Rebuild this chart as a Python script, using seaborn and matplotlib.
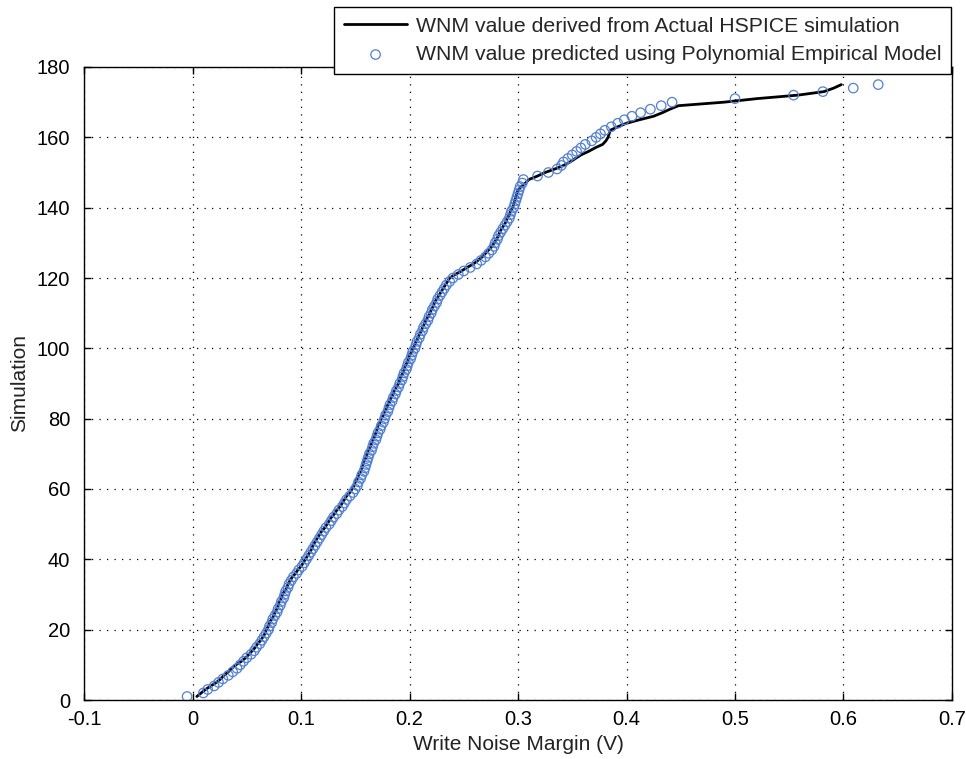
import matplotlib
matplotlib.use("Agg")
import matplotlib.pyplot as plt
import seaborn as sns
import pandas as pd
import numpy as np

actual_wnm = [
    0.004, 0.008, 0.012, 0.017, 0.022, 0.026, 0.029, 0.033, 0.036, 0.040,
    0.045, 0.049, 0.052, 0.055, 0.058, 0.060, 0.063, 0.065, 0.067, 0.068,
    0.070, 0.071, 0.073, 0.075, 0.076, 0.078, 0.079, 0.080, 0.082, 0.083,
    0.085, 0.087, 0.088, 0.090, 0.092, 0.095, 0.097, 0.100, 0.102, 0.104,
    0.106, 0.108, 0.110, 0.111, 0.113, 0.115, 0.117, 0.119, 0.122, 0.124,
    0.126, 0.128, 0.131, 0.133, 0.136, 0.138, 0.140, 0.142, 0.145, 0.147,
    0.149, 0.150, 0.152, 0.153, 0.155, 0.156, 0.157, 0.158, 0.160, 0.161,
    0.162, 0.164, 0.165, 0.166, 0.168, 0.169, 0.170, 0.171, 0.173, 0.174,
    0.176, 0.177, 0.179, 0.180, 0.182, 0.183, 0.185, 0.186, 0.188, 0.190,
    0.191, 0.192, 0.194, 0.195, 0.196, 0.198, 0.199, 0.200, 0.202, 0.203,
    0.205, 0.206, 0.208, 0.209, 0.211, 0.212, 0.214, 0.215, 0.217, 0.219,
    0.220, 0.222, 0.223, 0.225, 0.227, 0.229, 0.231, 0.233, 0.235, 0.237,
    0.242, 0.248, 0.253, 0.259, 0.263, 0.267, 0.270, 0.273, 0.276, 0.278,
    0.280, 0.282, 0.283, 0.285, 0.287, 0.289, 0.290, 0.292, 0.293, 0.295,
    0.296, 0.297, 0.298, 0.299, 0.300, 0.303, 0.307, 0.310, 0.318, 0.325,
    0.334, 0.342, 0.348, 0.353, 0.358, 0.365, 0.371, 0.378, 0.381, 0.383,
    0.384, 0.385, 0.392, 0.400, 0.412, 0.425, 0.433, 0.440, 0.448, 0.490,
    0.520, 0.558, 0.582, 0.591, 0.598,
]

predicted_wnm = [
    -0.005, 0.010, 0.014, 0.020, 0.024, 0.028, 0.033, 0.037, 0.041, 0.044,
    0.047, 0.050, 0.054, 0.057, 0.059, 0.062, 0.064, 0.066, 0.068, 0.070,
    0.071, 0.073, 0.074, 0.076, 0.078, 0.079, 0.081, 0.082, 0.084, 0.085,
    0.086, 0.088, 0.089, 0.091, 0.093, 0.096, 0.098, 0.101, 0.103, 0.105,
    0.107, 0.109, 0.111, 0.113, 0.115, 0.117, 0.119, 0.121, 0.123, 0.126,
    0.128, 0.130, 0.133, 0.135, 0.138, 0.140, 0.142, 0.145, 0.148, 0.150,
    0.152, 0.153, 0.155, 0.156, 0.158, 0.159, 0.160, 0.161, 0.162, 0.163,
    0.165, 0.166, 0.167, 0.169, 0.170, 0.171, 0.173, 0.174, 0.176, 0.177,
    0.178, 0.180, 0.181, 0.182, 0.184, 0.185, 0.187, 0.188, 0.190, 0.191,
    0.193, 0.194, 0.195, 0.197, 0.198, 0.199, 0.201, 0.202, 0.203, 0.205,
    0.206, 0.207, 0.209, 0.210, 0.212, 0.213, 0.215, 0.217, 0.218, 0.220,
    0.221, 0.223, 0.225, 0.226, 0.228, 0.230, 0.232, 0.234, 0.237, 0.240,
    0.245, 0.250, 0.256, 0.262, 0.266, 0.270, 0.273, 0.276, 0.278, 0.279,
    0.281, 0.282, 0.284, 0.286, 0.288, 0.290, 0.292, 0.293, 0.294, 0.296,
    0.297, 0.298, 0.299, 0.300, 0.301, 0.302, 0.304, 0.305, 0.318, 0.328,
    0.336, 0.340, 0.342, 0.346, 0.350, 0.354, 0.358, 0.362, 0.368, 0.372,
    0.376, 0.380, 0.386, 0.392, 0.398, 0.405, 0.413, 0.422, 0.432, 0.442,
    0.500, 0.554, 0.581, 0.609, 0.632,
]

sim_index = list(range(1, len(actual_wnm) + 1))

x_ticks = [-0.1, 0, 0.1, 0.2, 0.3, 0.4, 0.5, 0.6, 0.7]
x_tick_labels = ["-0.1", "0", "0.1", "0.2", "0.3", "0.4", "0.5", "0.6", "0.7"]
y_ticks = [0, 20, 40, 60, 80, 100, 120, 140, 160, 180]

label_actual = "WNM value derived from Actual HSPICE simulation"
label_pred = "WNM value predicted using Polynomial Empirical Model"

sns.set_theme(style="white")
plt.rcParams["font.family"] = ["Liberation Sans", "DejaVu Sans"]

df_act = pd.DataFrame({"wnm": actual_wnm, "sim": sim_index})
df_pred = pd.DataFrame({"wnm": predicted_wnm, "sim": sim_index})

W, H = 966, 759
fig = plt.figure(figsize=(W / 100, H / 100), dpi=100)
ax = fig.add_axes([84 / W, 1 - 700 / H, (952 - 84) / W, (700 - 67) / H])

sns.lineplot(data=df_act, x="wnm", y="sim", ax=ax, color="black", linewidth=2.0,
             sort=False, estimator=None, label=label_actual, zorder=3)
sns.scatterplot(data=df_pred, x="wnm", y="sim", ax=ax, marker="o", s=46,
                facecolor="none", edgecolor="#4f7fdc", linewidth=0.9,
                label=label_pred, zorder=4)

ax.set_xlim(-0.1, 0.7)
ax.set_ylim(0, 180)
ax.set_xticks(x_ticks)
ax.set_xticklabels(x_tick_labels)
ax.set_yticks(y_ticks)

ax.grid(True, color="black", linestyle=(0, (1, 5)), linewidth=0.9)
for sp in ax.spines.values():
    sp.set_color("black")
    sp.set_linewidth(1.0)
    sp.set_visible(True)

fs = 14.5
ax.tick_params(axis="both", which="both", direction="in", length=5, width=1,
               colors="black", labelsize=fs, top=True, right=True,
               bottom=True, left=True)
ax.tick_params(axis="x", pad=7)
ax.tick_params(axis="y", pad=10)

ax.set_xlabel("Write Noise Margin (V)", fontsize=15, color="#222222")
ax.set_ylabel("Simulation", fontsize=15, color="#222222")
ax.xaxis.set_label_coords(0.5, (700 - 745) / (700 - 67))
ax.xaxis.label.set_va("center")
ax.yaxis.set_label_coords((20 - 84) / (952 - 84), 0.5)
ax.yaxis.label.set_va("center")

ax.get_legend().remove()
handles, labels = ax.get_legend_handles_labels()
leg = fig.legend(handles, labels, loc="upper right",
                 bbox_to_anchor=(951 / W, 1 - 7 / H), fontsize=15.3,
                 frameon=True, fancybox=False, framealpha=1, edgecolor="black",
                 handlelength=3.0, handletextpad=0.4, borderpad=0.45,
                 labelspacing=0.45, borderaxespad=0)
leg.get_frame().set_linewidth(1.0)
leg.set_zorder(10)

fig.savefig("out.png", dpi=100, facecolor="white")
